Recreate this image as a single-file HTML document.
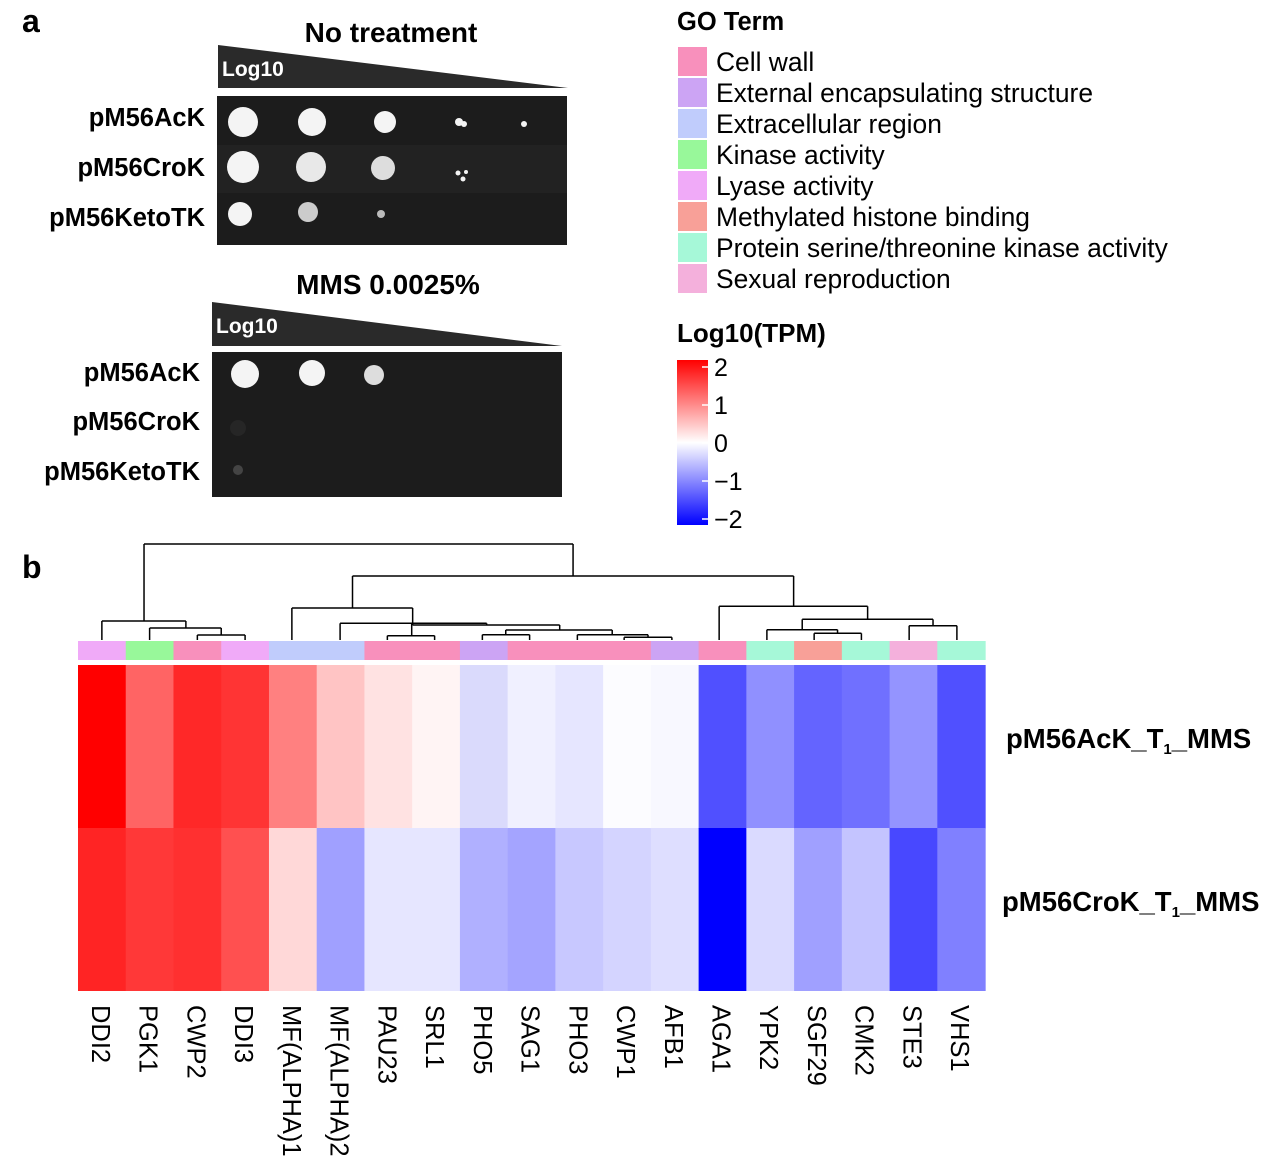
<!DOCTYPE html>
<html><head><meta charset="utf-8"><style>
html,body{margin:0;padding:0;background:#fff;}
svg{display:block;font-family:"Liberation Sans",Arial,sans-serif;}
</style></head><body>
<svg width="1268" height="1162" viewBox="0 0 1268 1162" xmlns="http://www.w3.org/2000/svg">
<!-- panel a -->
<text x="22" y="32" font-size="32" font-weight="bold">a</text>
<text x="391" y="42" font-size="28" font-weight="bold" text-anchor="middle">No treatment</text>
<polygon points="218,45 568,88 218,88" fill="#2a2a2a"/>
<text x="222" y="76" font-size="21" font-weight="bold" fill="#fff">Log10</text>
<rect x="217" y="96" width="350" height="149" fill="#1c1c1c"/>
<rect x="217" y="145" width="350" height="48" fill="#222"/>
<g fill="#f4f4f4">
<circle cx="243" cy="122" r="15"/><circle cx="312" cy="122" r="14"/><circle cx="385" cy="122" r="11"/>
<circle cx="459" cy="122" r="4"/><circle cx="464" cy="124" r="3"/><circle cx="524" cy="124" r="3"/>
<circle cx="243" cy="167" r="16"/><circle cx="311" cy="167" r="15" fill="#e8e8e8"/><circle cx="383" cy="168" r="12" fill="#ddd"/>
<circle cx="458" cy="173" r="2.5"/><circle cx="463" cy="179" r="2.5"/><circle cx="466" cy="172" r="2"/>
<circle cx="240" cy="214" r="12"/><circle cx="308" cy="212" r="10" fill="#ccc"/><circle cx="381" cy="214" r="4" fill="#bbb"/>
</g>
<g font-size="25.5" font-weight="bold" text-anchor="end">
<text x="205" y="126">pM56AcK</text><text x="205" y="176">pM56CroK</text><text x="205" y="226">pM56KetoTK</text>
</g>
<text x="388" y="294" font-size="28" font-weight="bold" text-anchor="middle">MMS 0.0025%</text>
<polygon points="212,302 562,346 212,346" fill="#2a2a2a"/>
<text x="216" y="333" font-size="21" font-weight="bold" fill="#fff">Log10</text>
<rect x="212" y="352" width="350" height="145" fill="#1c1c1c"/>
<g fill="#f4f4f4">
<circle cx="245" cy="374" r="14"/><circle cx="312" cy="373" r="13"/><circle cx="374" cy="375" r="10" fill="#ddd"/>
<circle cx="238" cy="470" r="5" fill="#444"/><circle cx="238" cy="428" r="8" fill="#262626"/>
</g>
<g font-size="25.5" font-weight="bold" text-anchor="end">
<text x="200" y="381">pM56AcK</text><text x="200" y="430">pM56CroK</text><text x="200" y="480">pM56KetoTK</text>
</g>
<!-- legend -->
<text x="677" y="30" font-size="25.5" font-weight="bold">GO Term</text>
<g>
<rect x="678" y="47" width="29" height="29" fill="#F890BC"/>
<rect x="678" y="78" width="29" height="29" fill="#CCA4F4"/>
<rect x="678" y="109" width="29" height="29" fill="#C0CCFC"/>
<rect x="678" y="140" width="29" height="29" fill="#98F89A"/>
<rect x="678" y="171" width="29" height="29" fill="#F0AAF8"/>
<rect x="678" y="202" width="29" height="29" fill="#F8A098"/>
<rect x="678" y="233" width="29" height="29" fill="#A6F8D8"/>
<rect x="678" y="264" width="29" height="29" fill="#F4B0DC"/>
</g>
<g font-size="26.4">
<text x="716" y="71">Cell wall</text>
<text x="716" y="102">External encapsulating structure</text>
<text x="716" y="133">Extracellular region</text>
<text x="716" y="164">Kinase activity</text>
<text x="716" y="195">Lyase activity</text>
<text x="716" y="226">Methylated histone binding</text>
<text x="716" y="257">Protein serine/threonine kinase activity</text>
<text x="716" y="288">Sexual reproduction</text>
</g>
<text x="677" y="342" font-size="26" font-weight="bold">Log10(TPM)</text>
<defs><linearGradient id="cb" x1="0" y1="0" x2="0" y2="1">
<stop offset="0" stop-color="#ff0000"/><stop offset="0.5" stop-color="#ffffff"/><stop offset="1" stop-color="#0000ff"/>
</linearGradient></defs>
<rect x="677" y="360" width="31" height="165" fill="url(#cb)"/>
<g stroke="#fff" stroke-width="1.5">
<line x1="702" y1="367" x2="708" y2="367"/><line x1="702" y1="405" x2="708" y2="405"/><line x1="702" y1="443" x2="708" y2="443"/><line x1="702" y1="481" x2="708" y2="481"/><line x1="702" y1="519" x2="708" y2="519"/>
</g>
<g font-size="25">
<text x="714" y="376">2</text><text x="714" y="414">1</text><text x="714" y="452">0</text><text x="714" y="490">−1</text><text x="714" y="528">−2</text>
</g>
<!-- panel b -->
<text x="22" y="578" font-size="32" font-weight="bold">b</text>
<g id="dend" stroke="#000" stroke-width="1.5" fill="none"></g>
<g id="ann"></g>
<g id="hm"></g>
<g id="lbl" font-size="25.5"></g>
<text x="1006" y="748" font-size="27.5" font-weight="bold">pM56AcK_T<tspan font-size="15" dy="6">1</tspan><tspan dy="-6">_MMS</tspan></text>
<text x="1002" y="911" font-size="27.5" font-weight="bold">pM56CroK_T<tspan font-size="15" dy="6">1</tspan><tspan dy="-6">_MMS</tspan></text>
</svg>
<script>
(function(){
var NS="http://www.w3.org/2000/svg",W=47.74,X0=78;
function X(u){return X0+u*W;}
function el(p,t,a){var e=document.createElementNS(NS,t);for(var k in a)e.setAttribute(k,a[k]);p.appendChild(e);return e;}
var ann=["#F0AAF8","#98F89A","#F890BC","#F0AAF8","#C0CCFC","#C0CCFC","#F890BC","#F890BC","#CCA4F4","#F890BC","#F890BC","#F890BC","#CCA4F4","#F890BC","#A6F8D8","#F8A098","#A6F8D8","#F4B0DC","#A6F8D8"];
var r1=["#FF0000","#FF6464","#FF2828","#FF3434","#FF8080","#FFC4C4","#FFE2E2","#FFF4F4","#DADAFC","#F0F0FF","#E6E6FF","#FCFCFF","#F8F8FF","#5050FF","#9090FF","#6464FF","#7070FF","#9494FF","#5050FF"];
var r2=["#FF2424","#FF3838","#FF3030","#FF5050","#FFD8D8","#A0A0FF","#E6E6FF","#E6E6FF","#B0B0FF","#A4A4FF","#C8C8FF","#D4D4FF","#DEDEFF","#0000FF","#DADAFF","#A0A0FF","#C4C4FF","#4848FF","#8080FF"];
var names=["DDI2","PGK1","CWP2","DDI3","MF(ALPHA)1","MF(ALPHA)2","PAU23","SRL1","PHO5","SAG1","PHO3","CWP1","AFB1","AGA1","YPK2","SGF29","CMK2","STE3","VHS1"];
var A=document.getElementById("ann"),H=document.getElementById("hm"),L=document.getElementById("lbl"),D=document.getElementById("dend");
for(var i=0;i<19;i++){
 el(A,"rect",{x:X(i),y:641,width:W+0.6,height:19,fill:ann[i]});
 el(H,"rect",{x:X(i),y:665,width:W+0.6,height:163.5,fill:r1[i]});
 el(H,"rect",{x:X(i),y:828,width:W+0.6,height:163,fill:r2[i]});
 var t=el(L,"text",{transform:"translate("+(X(i+0.5)-10)+",1005) rotate(90)"});t.textContent=names[i];
}
var h=[[1.383,10.37,544],[0.5,2.26,621],[1.5,3.0,628],[2.5,3.5,635],[5.75,14.99,576],[4.48,7.01,608],[5.49,8.56,623.3],[7.01,10.09,625],[8.96,11.19,630],[8.47,9.46,634.7],[10.46,11.94,634.7],[11.44,12.44,637.3],[6.48,7.47,635.7],[13.43,16.54,606.3],[15.17,17.91,619.3],[14.43,15.91,629.7],[15.42,16.41,633.3],[17.41,18.41,625.7]];
var v=[[1.383,544,621],[0.5,621,640],[2.26,621,628],[1.5,628,640],[3.0,628,635],[2.5,635,640],[3.5,635,640],[10.37,544,576],[5.75,576,608],[4.48,608,640],[7.01,608,625],[5.49,623.3,640],[8.56,623.3,625],[10.09,625,630],[8.96,630,634.7],[8.47,634.7,640],[9.46,634.7,640],[11.19,630,634.7],[10.46,634.7,640],[11.94,634.7,637.3],[11.44,637.3,640],[12.44,637.3,640],[6.99,623.3,635.7],[6.48,635.7,640],[7.47,635.7,640],[14.99,576,606.3],[13.43,606.3,640],[16.54,606.3,619.3],[15.17,619.3,629.7],[14.43,629.7,640],[15.91,629.7,633.3],[15.42,633.3,640],[16.41,633.3,640],[17.91,619.3,625.7],[17.41,625.7,640],[18.41,625.7,640]];
h.forEach(function(a){el(D,"line",{x1:X(a[0]),x2:X(a[1]),y1:a[2],y2:a[2]});});
v.forEach(function(a){el(D,"line",{x1:X(a[0]),x2:X(a[0]),y1:a[1],y2:a[2]});});
})();
</script>
</body></html>
